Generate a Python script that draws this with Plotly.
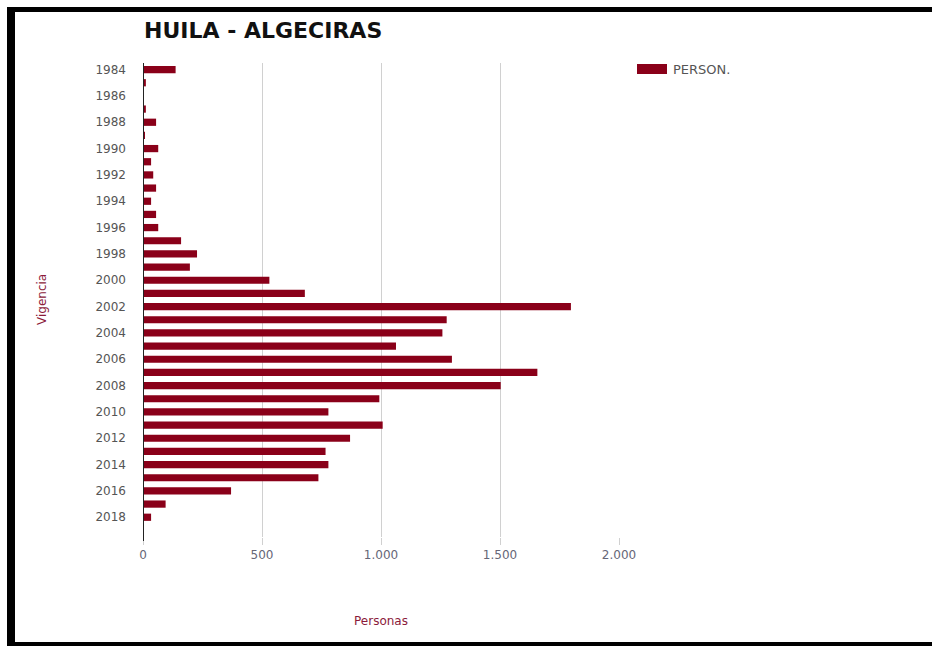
import plotly.graph_objects as go

years = list(range(1984, 2019))
personas = [137, 12, 4, 12, 55, 8, 64, 34, 43, 55, 34, 55, 64, 160, 227, 197, 531, 680,
            1798, 1276, 1258, 1063, 1298, 1657, 1503, 993, 779, 1007, 870, 767, 779, 737,
            370, 95, 34]
tick_years = list(range(1984, 2019, 2))
x_ticks = [0, 500, 1000, 1500, 2000]
x_tick_labels = ["0", "500", "1.000", "1.500", "2.000"]

W, H = 932, 646
L, R = 143, 619
T, B = 63, 537


def px(x):
    return (x - L) / (R - L)


def py(y):
    return (B - y) / (B - T)


FONT = "DejaVu Sans, Liberation Sans, Arial, sans-serif"
bar_color = "#8a0019"
label_color = "#8b1a3a"

fig = go.Figure()
fig.add_trace(go.Bar(
    x=personas, y=years, orientation="h", marker=dict(color=bar_color, line=dict(width=0)),
    name="PERSON.", showlegend=False,
))

fig.update_layout(
    width=W, height=H,
    margin=dict(l=L, r=W - R, t=T, b=H - B, pad=0),
    paper_bgcolor="white", plot_bgcolor="white",
    bargap=0.45,
    font=dict(family=FONT, size=12, color="#555"),
    xaxis=dict(range=[0, 2000], tickvals=x_ticks, ticktext=x_tick_labels,
               showgrid=True, gridcolor="#d0d0d0", gridwidth=1,
               ticks="outside", ticklen=7, tickcolor="#d0d0d0",
               zeroline=False, showline=False, fixedrange=True,
               tickfont=dict(family=FONT, size=12, color="#667")),
    yaxis=dict(range=[2019.5, 1983.5], tickvals=tick_years,
               showgrid=False, zeroline=False, showline=False,
               ticks="", ticklabelstandoff=16,
               tickfont=dict(family=FONT, size=12, color="#555")),
    showlegend=False,
)

shapes = []
# y axis baseline (value 0)
shapes.append(dict(type="line", xref="x", yref="paper", x0=0, x1=0, y0=py(541), y1=1,
                   line=dict(color="#222", width=2)))
# legend swatch
shapes.append(dict(type="rect", xref="paper", yref="paper", x0=px(637), x1=px(667),
                   y0=py(74), y1=py(64), fillcolor=bar_color, line=dict(width=0)))
# black frame
shapes.append(dict(type="rect", xref="paper", yref="paper", x0=px(7), x1=px(15),
                   y0=py(646), y1=py(7), fillcolor="black", line=dict(width=0)))
shapes.append(dict(type="rect", xref="paper", yref="paper", x0=px(7), x1=px(932),
                   y0=py(12), y1=py(7), fillcolor="black", line=dict(width=0)))
shapes.append(dict(type="rect", xref="paper", yref="paper", x0=px(7), x1=px(932),
                   y0=py(646), y1=py(642), fillcolor="black", line=dict(width=0)))
fig.update_layout(shapes=shapes)

annotations = [
    dict(text="<b>HUILA - ALGECIRAS</b>", xref="paper", yref="paper", x=px(142), y=py(30),
         xanchor="left", yanchor="middle", showarrow=False,
         font=dict(family=FONT, size=22, color="#111")),
    dict(text="PERSON.", xref="paper", yref="paper", x=px(671), y=py(69.5),
         xanchor="left", yanchor="middle", showarrow=False,
         font=dict(family=FONT, size=13, color="#555")),
    dict(text="Vigencia", xref="paper", yref="paper", x=px(42), y=py(300),
         xanchor="center", yanchor="middle", showarrow=False, textangle=-90,
         font=dict(family=FONT, size=12, color=label_color)),
    dict(text="Personas", xref="paper", yref="paper", x=px(381), y=py(621),
         xanchor="center", yanchor="middle", showarrow=False,
         font=dict(family=FONT, size=12, color=label_color)),
]
fig.update_layout(annotations=annotations)

fig.write_html("out.html")
